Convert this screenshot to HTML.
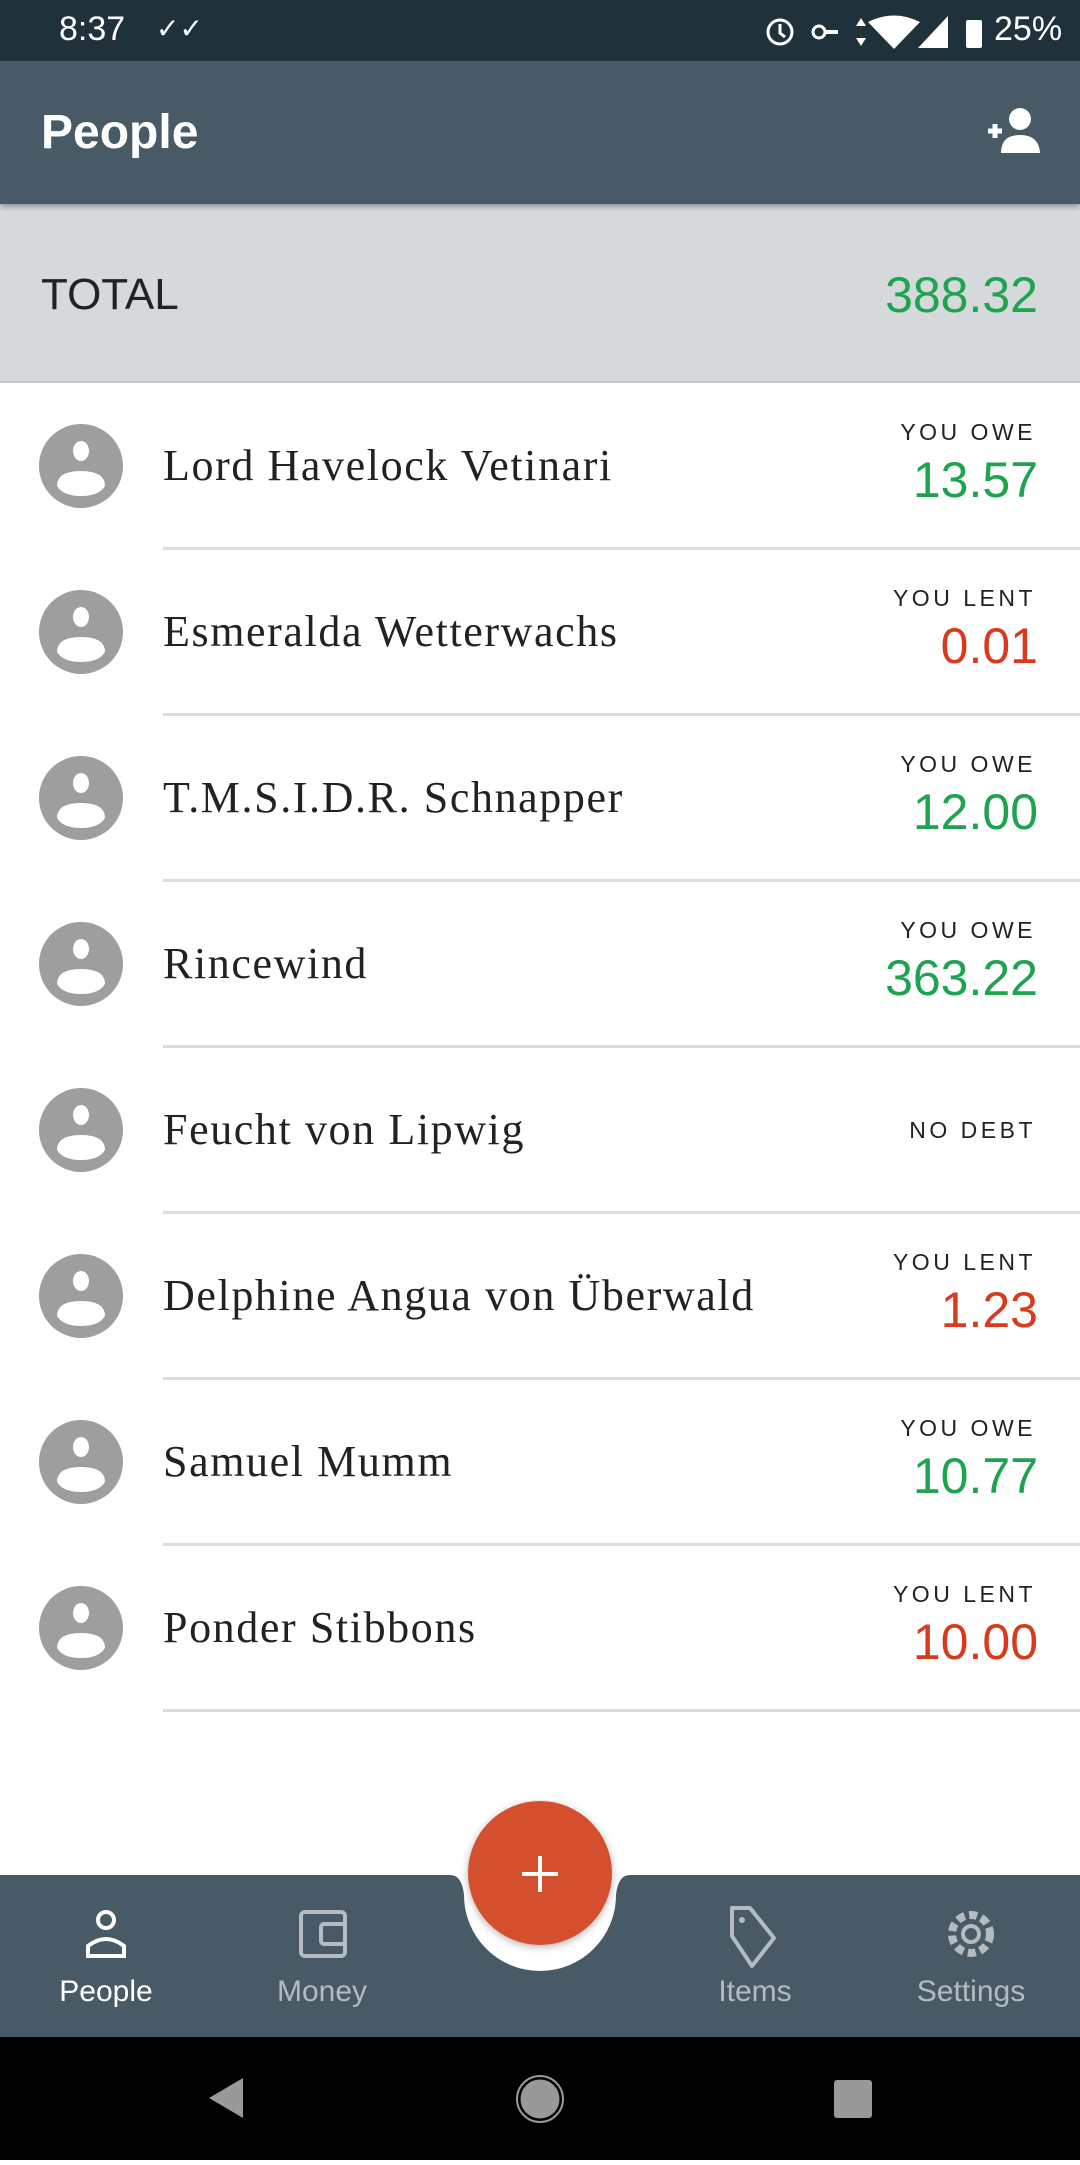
<!DOCTYPE html>
<html><head><meta charset="utf-8">
<style>
*{margin:0;padding:0;box-sizing:border-box}
body{width:1080px;height:2160px;position:relative;overflow:hidden;background:#fff;font-family:"Liberation Sans",sans-serif}
.abs{position:absolute}
#status{left:0;top:0;width:1080px;height:61px;background:#1f313b;color:#fff}
#appbar{left:0;top:61px;width:1080px;height:143px;background:#475a66;box-shadow:0 3px 5px rgba(0,0,0,.3);z-index:2}
#total{left:0;top:204px;width:1080px;height:179px;background:#d5d9db;border-bottom:2px solid #c4c8ca}
.row{position:absolute;left:0;width:1080px;height:166px}
.av{position:absolute;left:39px;top:41px;width:84px;height:84px}
.name{position:absolute;left:163px;top:0;height:166px;line-height:166px;font-family:"Liberation Serif",serif;font-size:44px;color:#222;letter-spacing:1.6px}
.lab{position:absolute;right:44px;top:36px;font-size:23px;letter-spacing:3.5px;color:#222}
.amt{position:absolute;right:42px;top:68px;font-size:50px;color:#1ea34f}
.amt.red{color:#da3a1c}
.sep{position:absolute;left:163px;right:0;bottom:-1px;height:3px;background:#dcdcdc}
#nav{left:0;top:1875px;width:1080px;height:162px;background:#475a66}
.ni{position:absolute;top:1975px;font-size:30px;color:#b3bcc1;transform:translateX(-50%)}
#sys{left:0;top:2037px;width:1080px;height:123px;background:#000}
</style></head><body>
<div id="status" class="abs">
 <div class="abs" style="left:59px;top:10px;font-size:34px">8:37</div>
 <div class="abs" style="left:156px;top:12px;font-size:28px">✓✓</div>
 <svg class="abs" style="left:762px;top:12px" width="230" height="40">
  <circle cx="18" cy="20" r="12" fill="none" stroke="#fff" stroke-width="3"/><path d="M18 12v9l5 4" stroke="#fff" stroke-width="3" fill="none"/>
  <circle cx="57" cy="20" r="6" fill="none" stroke="#fff" stroke-width="3"/><rect x="62" y="18" width="14" height="4" fill="#fff"/>
  <path d="M99 6l5 8h-10zM99 34l5-8h-10z" fill="#fff"/>
  <path d="M106 10q26-13 52 0l-26 27z" fill="#fff"/>
  <path d="M186 4v32h-30z" fill="#fff"/>
  <rect x="204" y="8" width="16" height="28" rx="2" fill="#fff"/>
 </svg>
 <div class="abs" style="left:994px;top:10px;font-size:34px">25%</div>
</div>
<div id="appbar" class="abs">
 <div class="abs" style="left:41px;top:44px;font-size:48px;font-weight:bold;color:#fff">People</div>
 <svg class="abs" style="left:988px;top:44px" width="60" height="52">
  <path d="M0 26h14M7 19v14" stroke="#fff" stroke-width="5"/>
  <circle cx="32" cy="14" r="11" fill="#fff"/><path d="M13 48q0-18 19-18t20 18z" fill="#fff"/>
 </svg>
</div>
<div id="total" class="abs">
 <div class="abs" style="left:41px;top:66px;font-size:44px;color:#222">TOTAL</div>
 <div class="abs" style="right:42px;top:62px;font-size:50px;color:#1ea34f">388.32</div>
</div>
<div id="list"></div>
<div id="nav" class="abs"></div>
<svg class="abs" style="left:440px;top:1800px" width="200" height="180">
 <defs><filter id="sh"><feDropShadow dx="0" dy="2" stdDeviation="4" flood-opacity=".3"/></filter></defs>
 <path d="M0 75h10q12 0 14 20a76 76 0 0 0 152 0q2-20 14-20h10v-80h-200z" fill="#fff"/>
 <circle cx="100" cy="73" r="72" fill="#d44f2e" filter="url(#sh)"/>
 <path d="M100 56v36M82 74h36" stroke="#fff" stroke-width="4"/>
</svg>
<svg class="abs" style="left:0;top:1900px" width="1080" height="80">
 <circle cx="106" cy="20" r="8" fill="none" stroke="#fff" stroke-width="4"/><path d="M88 56v-10q18-14 36 0v10z" fill="none" stroke="#fff" stroke-width="4"/>
 <rect x="301" y="12" width="44" height="44" rx="4" fill="none" stroke="#b3bcc1" stroke-width="4"/><rect x="321" y="24" width="24" height="20" rx="3" fill="none" stroke="#b3bcc1" stroke-width="4"/>
 <path d="M732 8h18l24 30-22 28-20-30z" fill="none" stroke="#b3bcc1" stroke-width="4" stroke-linejoin="round"/><circle cx="742" cy="20" r="3" fill="#b3bcc1"/>
 <circle cx="971" cy="34" r="19" fill="none" stroke="#b3bcc1" stroke-width="8" stroke-dasharray="8 4.5"/><circle cx="971" cy="34" r="8" fill="none" stroke="#b3bcc1" stroke-width="4"/>
</svg>
<div class="ni" style="left:106px;color:#fff">People</div>
<div class="ni" style="left:322px">Money</div>
<div class="ni" style="left:755px">Items</div>
<div class="ni" style="left:971px">Settings</div>
<div id="sys" class="abs">
 <svg width="1080" height="123">
  <path d="M243 41v40l-34-20z" fill="#999"/>
  <circle cx="540" cy="62" r="21" fill="#999" stroke="#000" stroke-width="3"/><circle cx="540" cy="62" r="23" fill="none" stroke="#999" stroke-width="2"/>
  <rect x="834" y="43" width="38" height="38" rx="3" fill="#999"/>
 </svg>
</div>
<script>
const names=["Lord Havelock Vetinari","Esmeralda Wetterwachs","T.M.S.I.D.R. Schnapper","Rincewind","Feucht von Lipwig","Delphine Angua von Überwald","Samuel Mumm","Ponder Stibbons"];
const labels=["YOU OWE","YOU LENT","YOU OWE","YOU OWE","NO DEBT","YOU LENT","YOU OWE","YOU LENT"];
const amounts=["13.57","0.01","12.00","363.22","","1.23","10.77","10.00"];
const list=document.getElementById('list');
names.forEach((n,i)=>{
 const r=document.createElement('div');r.className='row';r.style.top=(383+i*166)+'px';
 
 
 const debt=labels[i]==="NO DEBT";
 r.innerHTML='<svg class="av" viewBox="0 0 84 84"><circle cx="42" cy="42" r="42" fill="#9e9e9e"/><ellipse cx="42" cy="27" rx="8" ry="10" fill="#fff"/><path d="M18 62q0-15 24-15t24 15q-6 10-24 10t-24-10z" fill="#fff"/></svg>'+
 '<div class="name">'+n+'</div>'+
 '<div class="lab"'+(debt?' style="top:70px"':'')+'>'+labels[i]+'</div>'+
 (debt?'':'<div class="amt'+(labels[i]==="YOU LENT"?' red':'')+'">'+amounts[i]+'</div>')+
 '<div class="sep"></div>';
 list.appendChild(r);
});
</script>
</body></html>
